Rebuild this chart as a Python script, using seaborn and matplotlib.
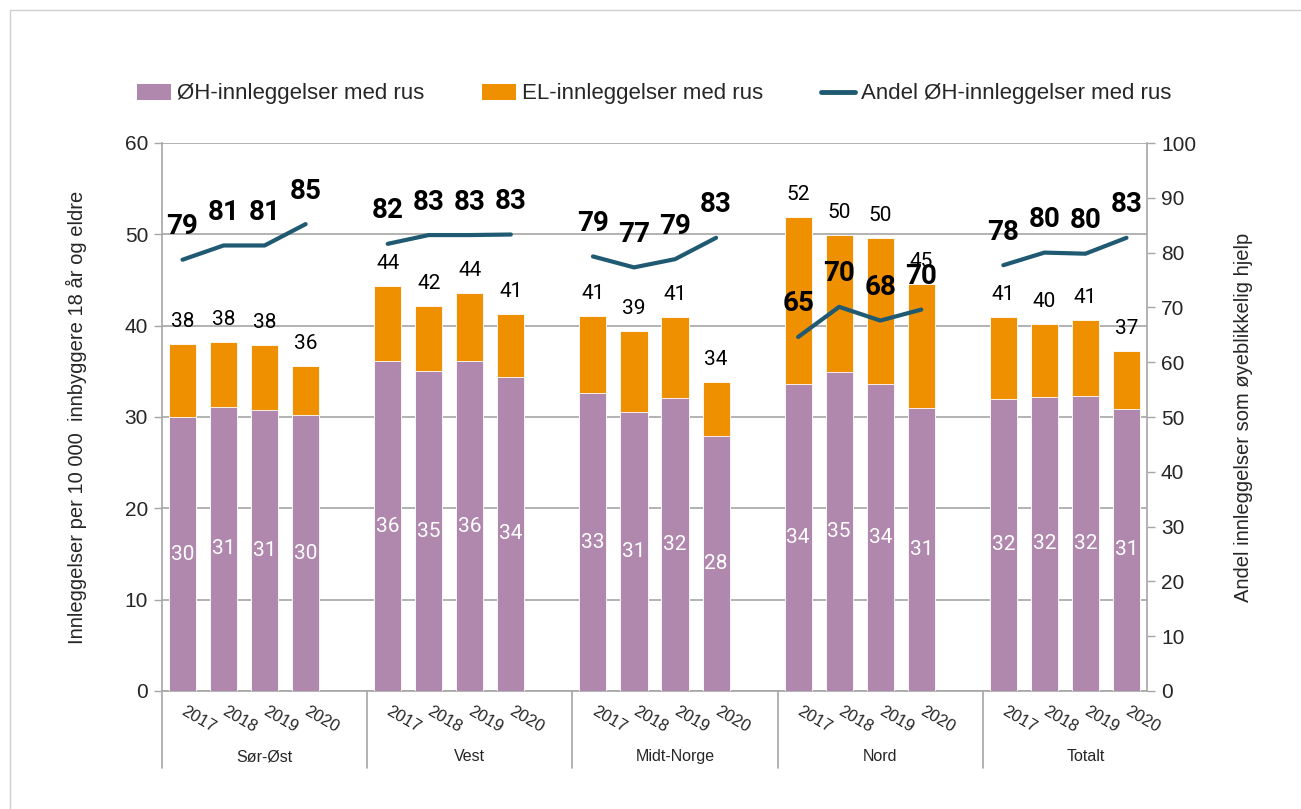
import numpy as np
import pandas as pd
import matplotlib.pyplot as plt
import seaborn as sns
from matplotlib.patches import Patch
from matplotlib.lines import Line2D

regions = ['Sør-Øst', 'Vest', 'Midt-Norge', 'Nord', 'Totalt']
years = ['2017', '2018', '2019', '2020']

# ØH / EL per 10 000, region by region, 2017-2020
oh = [30.0, 31.1, 30.8, 30.2,
      36.1, 35.0, 36.1, 34.4,
      32.6, 30.6, 32.1, 27.9,
      33.6, 34.9, 33.6, 31.0,
      32.0, 32.2, 32.3, 30.9]
el = [8.0, 7.1, 7.1, 5.4,
      8.2, 7.2, 7.5, 6.9,
      8.5, 8.8, 8.8, 5.9,
      18.3, 15.0, 16.0, 13.6,
      9.0, 8.0, 8.3, 6.3]
# andel ØH (%)
andel = [78.7, 81.3, 81.3, 85.2,
         81.6, 83.2, 83.2, 83.3,
         79.3, 77.3, 78.8, 82.7,
         64.6, 70.1, 67.6, 69.6,
         77.7, 80.0, 79.8, 82.7]

purple = '#B088AE'
orange = '#EE9000'
teal = '#1F5A72'
grid_col = '#A6A6A6'

sns.set_theme(style='white')
plt.rcParams['font.family'] = ['Liberation Sans', 'DejaVu Sans']

# one gap slot between regions
df = pd.DataFrame({
    'region': np.repeat(regions, len(years)),
    'year': years * len(regions),
    'oh': oh,
    'el': el,
    'andel': andel,
})
df['pos'] = [g * 5 + j for g in range(len(regions)) for j in range(len(years))]
df['total'] = df['oh'] + df['el']

fig = plt.figure(figsize=(13.01, 8.09), dpi=100)
ax = fig.add_axes([162 / 1301, 1 - 691 / 809, (1147 - 162) / 1301, (691 - 143) / 809])

sns.barplot(data=df, x='pos', y='total', native_scale=True, width=0.66, color=orange,
            saturation=1, errorbar=None, edgecolor='white', linewidth=0.6, ax=ax, zorder=2)
sns.barplot(data=df, x='pos', y='oh', native_scale=True, width=0.66, color=purple,
            saturation=1, errorbar=None, edgecolor='white', linewidth=0.6, ax=ax, zorder=3)

ax.set_xlim(-0.5, 23.5)
ax.set_ylim(0, 60)
ax.set_yticks(range(0, 61, 10))
ax.yaxis.grid(True, color=grid_col, lw=1.2, zorder=0)
ax.set_axisbelow(True)
ax.set_xlabel('')
ax.set_ylabel('Innleggelser per 10 000  innbyggere 18 år og eldre', fontsize=14.5, labelpad=27)
ax.set_xticks(df['pos'])
ax.set_xticklabels(df['year'], rotation=-30, ha='left', va='center', rotation_mode='anchor',
                   fontsize=12)
ax.tick_params(axis='x', length=0, pad=14)
ax.tick_params(axis='y', length=6, width=1, color=grid_col, labelsize=15, left=True, pad=4)
for s in ['top', 'right']:
    ax.spines[s].set_visible(False)
for s in ['left', 'bottom']:
    ax.spines[s].set_color(grid_col)
    ax.spines[s].set_linewidth(1.2)

for _, r in df.iterrows():
    ax.annotate(f"{r['oh']:.0f}", (r['pos'], r['oh'] / 2), ha='center', va='center',
                color='white', fontsize=15, family='Roboto', zorder=5)
    ax.annotate(f"{r['total']:.0f}", (r['pos'], r['total']), xytext=(0, 13),
                textcoords='offset pixels', ha='center', va='bottom',
                color='black', fontsize=15, family='Roboto', zorder=5)

# region labels and separators below the axis
trans = ax.get_xaxis_transform()
for g, name in enumerate(regions):
    left = g * 5 - 0.5
    ax.plot([left, left], [0, -0.141], transform=trans, color=grid_col, lw=1.2, clip_on=False)
    ax.text(left + 2.5, -0.12, name, transform=trans, ha='center', va='center', fontsize=11.5)

ax2 = ax.twinx()
sns.lineplot(data=df, x='pos', y='andel', units='region', estimator=None, color=teal,
             lw=3, ax=ax2, legend=False, zorder=4)
ax2.set_ylim(0, 100)
ax2.set_xlim(-0.5, 23.5)
ax2.set_yticks(range(0, 101, 10))
ax2.set_ylabel('Andel innleggelser som øyeblikkelig hjelp', fontsize=14.5, labelpad=27)
ax2.set_xlabel('')
ax2.tick_params(axis='y', length=6, width=1, color=grid_col, labelsize=15, right=True, pad=4)
for s in ['top', 'left', 'bottom']:
    ax2.spines[s].set_visible(False)
ax2.spines['right'].set_color(grid_col)
ax2.spines['right'].set_linewidth(1.2)

for _, r in df.iterrows():
    ax2.annotate(f"{r['andel']:.0f}", (r['pos'], r['andel']), xytext=(0, 33),
                 textcoords='offset pixels', ha='center', va='center',
                 fontsize=20, fontweight='bold', family='Roboto', color='black', zorder=6)

handles = [Patch(facecolor=purple, edgecolor='none'),
           Patch(facecolor=orange, edgecolor='none'),
           Line2D([], [], color=teal, lw=3.5)]
labels = ['ØH-innleggelser med rus', 'EL-innleggelser med rus', 'Andel ØH-innleggelser med rus']
fig.legend(handles, labels, loc='center', bbox_to_anchor=(0.503, 1 - 94 / 809), ncol=3,
           frameon=False, fontsize=16, handlelength=1.5, handleheight=0.7,
           handletextpad=0.3, columnspacing=2.6)

# thin frame around the chart
fig.add_artist(Line2D([10 / 1301, 10 / 1301, 1], [0, 1 - 10 / 809, 1 - 10 / 809],
                      transform=fig.transFigure, color='#D0D0D0', lw=1))

fig.savefig('out.png', dpi=100)
